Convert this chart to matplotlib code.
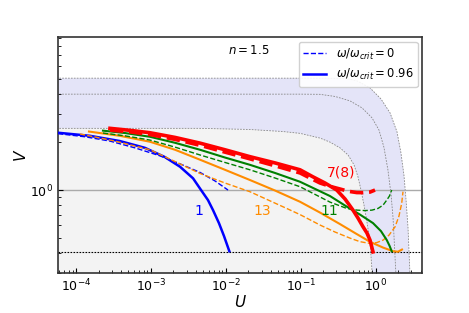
import matplotlib
matplotlib.use('Agg')
import matplotlib.pyplot as plt

# ---- data (U, V) ----
# band boundaries (grey dotted curves)
outer_U = [5e-5, 1e-3, 0.1, 0.391, 0.565, 0.842, 1.18, 1.56, 1.93, 2.18, 2.39, 2.55, 2.71, 2.88]
outer_V = [5.04, 5.04, 5.04, 5.03, 4.85, 4.38, 3.73, 3.05, 2.32, 1.71, 1.24, 0.865, 0.577, 0.292]
middle_U = [5e-5, 1e-3, 0.1, 0.181, 0.287, 0.455, 0.659, 0.895, 1.11, 1.29, 1.46, 1.61, 1.71, 1.87]
middle_V = [4.0, 4.0, 4.0, 3.99, 3.87, 3.63, 3.28, 2.84, 2.38, 1.86, 1.34, 0.930, 0.667, 0.292]
inner_U = [5e-5, 4.53e-3, 0.0210, 0.0581, 0.0980, 0.181, 0.246, 0.335, 0.429, 0.515,
           0.582, 0.638, 0.700, 0.767, 0.842, 0.904]
inner_V = [2.44, 2.44, 2.40, 2.33, 2.27, 2.12, 2.00, 1.84, 1.66, 1.44,
           1.21, 1.0, 0.805, 0.629, 0.473, 0.292]

# omega/omega_crit = 0.96 (solid)
blue_s_U = [5.75e-5, 1.54e-4, 3.86e-4, 8.34e-4, 1.54e-3, 2.45e-3, 3.65e-3, 4.67e-3,
            5.78e-3, 6.75e-3, 8.11e-3, 9.46e-3, 0.01114]
blue_s_V = [2.29, 2.19, 2.03, 1.84, 1.61, 1.40, 1.185, 1.0, 0.865, 0.748, 0.619, 0.514, 0.413]
orange_s_U = [1.49e-4, 3.86e-4, 9.72e-4, 2.10e-3, 4.53e-3, 9.75e-3, 0.0210, 0.0454, 0.0980,
              0.181, 0.335, 0.531, 0.842, 1.26, 1.71, 1.99, 2.25]
orange_s_V = [2.33, 2.19, 2.01, 1.79, 1.55, 1.34, 1.156, 0.993, 0.844,
              0.722, 0.611, 0.537, 0.473, 0.435, 0.413, 0.410, 0.423]
green_s_U = [2.29e-4, 4.51e-4, 9.72e-4, 2.10e-3, 4.53e-3, 9.75e-3, 0.0210, 0.0454, 0.0980,
             0.246, 0.415, 0.619, 0.923, 1.18, 1.41, 1.53, 1.64]
green_s_V = [2.36, 2.28, 2.16, 1.98, 1.79, 1.60, 1.44, 1.28, 1.127,
             0.917, 0.785, 0.701, 0.620, 0.552, 0.485, 0.448, 0.413]
red_s_U = [2.84e-4, 5.26e-4, 9.72e-4, 2.10e-3, 4.53e-3, 9.75e-3, 0.0210, 0.0454, 0.0980, 0.146,
           0.211, 0.303, 0.391, 0.499, 0.582, 0.679, 0.767, 0.842, 0.923]
red_s_V = [2.44, 2.37, 2.29, 2.14, 1.97, 1.79, 1.62, 1.48, 1.34, 1.21,
           1.107, 1.0, 0.878, 0.748, 0.667, 0.588, 0.537, 0.485, 0.409]

# omega/omega_crit = 0 (dashed)
blue_d_U = [5.75e-5, 1.32e-4, 2.84e-4, 6.14e-4, 1.32e-3, 2.45e-3, 4.53e-3, 7.18e-3, 0.0107]
blue_d_V = [2.26, 2.16, 2.03, 1.84, 1.64, 1.46, 1.29, 1.14, 1.0]
orange_d_U = [1.13e-4, 3.32e-4, 9.72e-4, 2.10e-3, 4.53e-3, 9.75e-3, 0.0210, 0.0581, 0.0980, 0.181,
              0.287, 0.455, 0.619, 0.842, 1.04, 1.26, 1.51, 1.82, 2.05, 2.23, 2.32]
orange_d_V = [2.25, 2.03, 1.79, 1.51, 1.27, 1.107, 0.976, 0.785, 0.701, 0.603,
              0.545, 0.499, 0.474, 0.462, 0.468, 0.485, 0.521, 0.588, 0.686, 0.825, 0.976]
green_d_U = [2.29e-4, 4.51e-4, 9.72e-4, 2.10e-3, 4.53e-3, 9.75e-3, 0.0210, 0.0454, 0.0980, 0.146,
             0.246, 0.411, 0.565, 0.723, 0.895, 1.08, 1.26, 1.41, 1.53, 1.64]
green_d_V = [2.28, 2.19, 2.06, 1.86, 1.66, 1.49, 1.34, 1.19, 1.049, 0.953,
             0.840, 0.767, 0.748, 0.743, 0.748, 0.767, 0.805, 0.865, 0.917, 1.0]
red_d_U = [2.84e-4, 5.26e-4, 9.72e-4, 2.10e-3, 4.53e-3, 9.75e-3, 0.0210, 0.0454, 0.0980,
           0.133, 0.181, 0.246, 0.335, 0.429, 0.560, 0.679, 0.842, 0.982]
red_d_V = [2.38, 2.32, 2.23, 2.08, 1.91, 1.73, 1.57, 1.42, 1.28,
           1.19, 1.107, 1.055, 1.015, 0.983, 0.964, 0.963, 0.971, 1.0]

V_ref = 1.0
V_low = 0.41

fig = plt.figure(figsize=(4.69, 3.13), dpi=100)
ax = fig.add_axes([0.1243, 0.1268, 0.7761, 0.754])
ax.set_xscale('log')
ax.set_yscale('log')
ax.set_xlim(5.8e-5, 4.2)
ax.set_ylim(0.3, 9.1)

# 背景區域
ax.fill(inner_U + [inner_U[-1], 5e-5], inner_V + [0.2, 0.2],
        color='#f3f3f3', lw=0, zorder=0)
ax.fill(outer_U + inner_U[::-1], outer_V + inner_V[::-1],
        color='#e4e4f8', lw=0, zorder=0)
for u, v in [(outer_U, outer_V), (middle_U, middle_V), (inner_U, inner_V)]:
    ax.plot(u, v, color='#888888', ls=(0, (2, 1.5)), lw=0.6, zorder=1)

ax.axhline(V_ref, color='#aaaaaa', lw=1.0, zorder=1)
ax.axhline(V_low, color='black', ls=(0, (1.5, 1.2)), lw=0.8, zorder=1)

# 曲線
ax.plot(blue_d_U, blue_d_V, color='blue', ls='--', lw=1.0, zorder=3)
ax.plot(blue_s_U, blue_s_V, color='blue', lw=1.8, zorder=3)
ax.plot(orange_d_U, orange_d_V, color='darkorange', ls='--', lw=1.0, zorder=3)
ax.plot(orange_s_U, orange_s_V, color='darkorange', lw=1.5, zorder=3)
ax.plot(green_d_U, green_d_V, color='green', ls='--', lw=1.0, zorder=3)
ax.plot(green_s_U, green_s_V, color='green', lw=1.5, zorder=3)
ax.plot(red_d_U, red_d_V, color='red', ls='--', lw=2.6, zorder=4)
ax.plot(red_s_U, red_s_V, color='red', lw=2.6, zorder=4)

# 曲線標註
ax.text(0.0044, 0.74, '1', color='blue', fontsize=10, ha='center', va='center')
ax.text(0.031, 0.74, '13', color='darkorange', fontsize=10, ha='center', va='center')
ax.text(0.244, 0.74, '11', color='green', fontsize=10, ha='center', va='center')
ax.text(0.35, 1.28, '7(8)', color='red', fontsize=10, ha='center', va='center')
ax.text(0.522, 0.945, r'$n = 1.5$', transform=ax.transAxes, fontsize=8.5,
        ha='center', va='center')

# legend
h1, = ax.plot([], [], color='blue', ls='--', lw=1.0)
h2, = ax.plot([], [], color='blue', lw=1.8)
ax.legend([h1, h2], [r'$\omega/\omega_{crit} = 0$', r'$\omega/\omega_{crit} = 0.96$'],
          loc='upper right', fontsize=8.3, framealpha=0.9, borderaxespad=0.4)

ax.set_xlabel(r'$U$', fontsize=11)
ax.set_ylabel(r'$V$', fontsize=11)
ax.xaxis.set_label_coords(0.5, -0.086)
ax.yaxis.set_label_coords(-0.08, 0.5)
ax.tick_params(which='both', direction='in', labelsize=9)
for s in ax.spines.values():
    s.set_linewidth(1.2)
    s.set_color('#333333')

fig.savefig('out.png', dpi=100)
